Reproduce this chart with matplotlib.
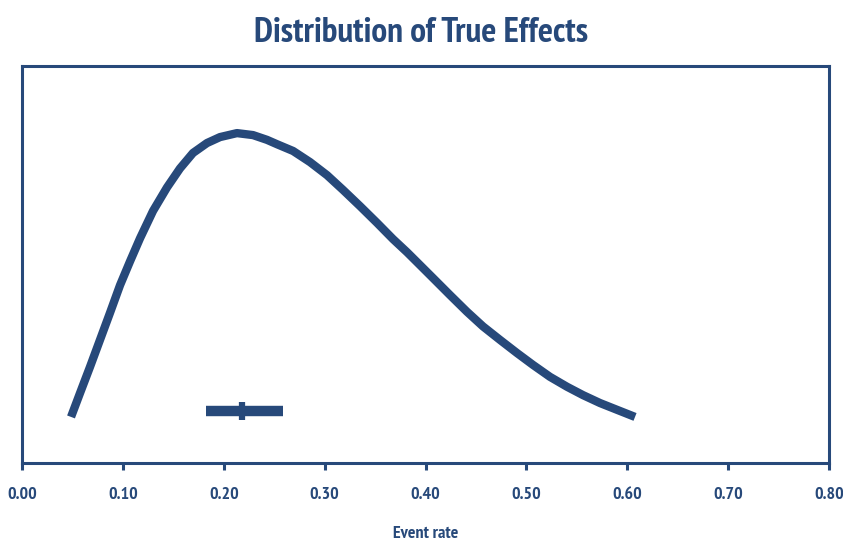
import numpy as np
import matplotlib
matplotlib.use("Agg")
import matplotlib.pyplot as plt
from matplotlib import font_manager

# Curve (event rate, relative density)
rate = [0.0486, 0.0575, 0.0674, 0.0773, 0.0872, 0.0972, 0.1071, 0.1170,
        0.1299, 0.1437, 0.1566, 0.1695, 0.1834, 0.1963, 0.2131, 0.2290,
        0.2429, 0.2528, 0.2687, 0.2855, 0.3024, 0.3182, 0.3351, 0.3519,
        0.3678, 0.3817, 0.3916, 0.4074, 0.4243, 0.4411, 0.4570, 0.4739,
        0.4907, 0.5066, 0.5234, 0.5403, 0.5561, 0.5730, 0.5898, 0.6077]
density = [0.116, 0.176, 0.242, 0.310, 0.378, 0.448, 0.508, 0.566,
           0.635, 0.694, 0.742, 0.781, 0.806, 0.821, 0.831, 0.826,
           0.814, 0.803, 0.786, 0.758, 0.725, 0.688, 0.647, 0.605,
           0.564, 0.531, 0.506, 0.466, 0.423, 0.381, 0.344, 0.310,
           0.277, 0.247, 0.217, 0.192, 0.171, 0.151, 0.134, 0.116]

# Summary effect and its interval
point_est = 0.218
ci_low = 0.182
ci_high = 0.259
ci_y = 0.131

xticks = [0.0, 0.1, 0.2, 0.3, 0.4, 0.5, 0.6, 0.7, 0.8]

navy = "#27497a"


def bold_weight(w):
    if isinstance(w, str):
        return w in ("bold", "heavy", "black", "extra bold", "semibold", "demibold")
    return w >= 600


# pick a narrow family that really has a bold face
wanted = ["Liberation Sans Narrow", "Arial Narrow", "PT Sans Narrow", "Roboto Condensed",
          "Archivo Narrow", "Pragati Narrow", "Asap Condensed", "Barlow Semi Condensed"]
fonts = font_manager.fontManager.ttflist
narrow = ["Liberation Sans", "DejaVu Sans"]
for n in wanted:
    if any(f.name == n and bold_weight(f.weight) for f in fonts):
        narrow = [n] + narrow
        break

fig = plt.figure(figsize=(8.43, 5.47), dpi=100)
ax = fig.add_axes([0.0261, 0.1536, 0.9573, 0.7257])

ax.plot(rate, density, color=navy, lw=6, solid_capstyle="butt", solid_joinstyle="round")
ax.plot([ci_low, ci_high], [ci_y, ci_y], color=navy, lw=7.5, solid_capstyle="butt")
ax.plot([point_est], [ci_y], marker="|", markersize=13, markeredgewidth=4.5, color=navy)

ax.set_xlim(0, 0.8)
ax.set_ylim(0, 1)
ax.set_xticks(xticks)
ax.set_xticklabels(["%.2f" % v for v in xticks], fontfamily=narrow,
                   fontweight="bold", fontsize=13, color=navy)
ax.set_yticks([])
ax.tick_params(axis="x", direction="out", length=5, width=2.2, color=navy, pad=12)

for s in ax.spines.values():
    s.set_color(navy)
    s.set_linewidth(2.2)

ax.set_xlabel("Event rate", fontfamily=narrow, fontweight="bold", fontsize=13,
              color=navy, labelpad=17)
fig.text(0.5, 0.94, "Distribution of True Effects", ha="center", va="center",
         fontfamily=narrow, fontweight="bold", fontsize=25.5, color=navy)

fig.savefig("out.png", dpi=100)
